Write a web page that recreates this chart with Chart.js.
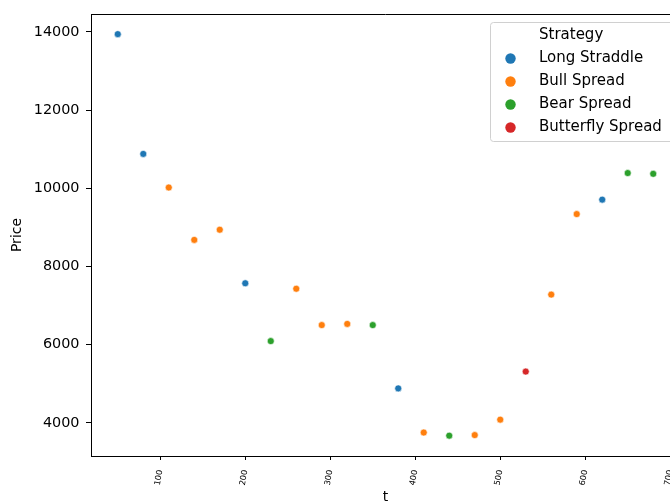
<!DOCTYPE html>
<html>
<head>
<meta charset="utf-8">
<script src="https://cdn.jsdelivr.net/npm/chart.js@4/dist/chart.umd.min.js"></script>
<style>
  html, body { margin: 0; padding: 0; overflow: hidden; background: #fff; }
  #wrap { position: absolute; left: 0; top: 0; width: 690px; height: 512px; }
</style>
</head>
<body>
<div id="wrap"><canvas id="scatter" width="690" height="512"></canvas></div>
<script>
// values
const tValues = [50, 80, 110, 140, 170, 200, 230, 260, 290, 320, 350, 380, 410, 440, 470, 500, 530, 560, 590, 620, 650, 680];
const prices = [13945, 10880, 10020, 8680, 8940, 7570, 6090, 7430, 6500, 6530, 6500, 4880, 3750, 3670, 3685, 4080, 5310, 7280, 9340, 9710, 10390, 10370];
const pointStrategy = [
  "Long Straddle", "Long Straddle", "Bull Spread", "Bull Spread", "Bull Spread",
  "Long Straddle", "Bear Spread", "Bull Spread", "Bull Spread", "Bull Spread",
  "Bear Spread", "Long Straddle", "Bull Spread", "Bear Spread", "Bull Spread",
  "Bull Spread", "Butterfly Spread", "Bull Spread", "Bull Spread", "Long Straddle",
  "Bear Spread", "Bear Spread"
];
const strategies = ["Long Straddle", "Bull Spread", "Bear Spread", "Butterfly Spread"];
const colors = ["#1f77b4", "#ff7f0e", "#2ca02c", "#d62728"];
const xTicks = [100, 200, 300, 400, 500, 600, 700];
const yTicks = [4000, 6000, 8000, 10000, 12000, 14000];

const FONT = "'DejaVu Sans', sans-serif";

const datasets = strategies.map((name, i) => ({
  label: name,
  data: tValues
    .map((t, k) => ({ x: t, y: prices[k], s: pointStrategy[k] }))
    .filter(p => p.s === name),
  backgroundColor: colors[i],
  borderColor: "#ffffff",
  borderWidth: 0.6,
  pointRadius: 3.5,
}));

// full box round the axes, like matplotlib spines
const framePlugin = {
  id: "frame",
  afterDraw(chart) {
    const { ctx, chartArea: a } = chart;
    ctx.save();
    ctx.strokeStyle = "#000";
    ctx.lineWidth = 1;
    ctx.beginPath();
    ctx.moveTo(a.left, a.top + 0.5);
    ctx.lineTo(a.right, a.top + 0.5);
    ctx.moveTo(a.right - 0.5, a.top);
    ctx.lineTo(a.right - 0.5, a.bottom);
    ctx.stroke();
    ctx.restore();
  }
};

// legend with title inside the plot, top right
const legendBox = {
  id: "legendBox",
  afterDraw(chart) {
    const ctx = chart.ctx;
    const x0 = 490.5, y0 = 22.5, w = 190, h = 119;
    ctx.save();
    ctx.fillStyle = "rgba(255,255,255,0.8)";
    ctx.strokeStyle = "#d0d0d0";
    ctx.lineWidth = 1;
    ctx.beginPath();
    ctx.roundRect(x0, y0, w, h, 3);
    ctx.fill();
    ctx.stroke();
    ctx.font = "15px " + FONT;
    ctx.fillStyle = "#000";
    ctx.textBaseline = "middle";
    ctx.textAlign = "left";
    ctx.fillText("Strategy", 539, 35);
    chart.data.datasets.forEach((ds, i) => {
      const y = 58.5 + i * 23;
      ctx.beginPath();
      ctx.arc(510.5, y, 5.2, 0, Math.PI * 2);
      ctx.fillStyle = ds.backgroundColor;
      ctx.fill();
      ctx.fillStyle = "#000";
      ctx.fillText(ds.label, 539, y);
    });
    ctx.restore();
  }
};

new Chart(document.getElementById("scatter"), {
  type: "scatter",
  data: { datasets },
  options: {
    responsive: false,
    devicePixelRatio: 1,
    animation: false,
    layout: { padding: { top: 14, right: 10, left: 0, bottom: 0 } },
    plugins: {
      legend: { display: false },
      tooltip: { enabled: false },
    },
    scales: {
      x: {
        type: "linear",
        min: 18.5,
        max: 711.5,
        afterBuildTicks: s => { s.ticks = xTicks.map(v => ({ value: v })); },
        afterFit: s => { s.height = 56; },
        grid: { drawOnChartArea: false, drawTicks: true, tickLength: 4, tickColor: "#000" },
        border: { display: true, color: "#000", width: 1 },
        ticks: {
          minRotation: 80,
          maxRotation: 80,
          padding: 9,
          color: "#000",
          font: { family: FONT, size: 8.3 },
          callback: v => String(v),
        },
        title: {
          display: true,
          text: "t",
          color: "#000",
          font: { family: FONT, size: 14 },
          padding: { top: 0, bottom: 6 },
        },
      },
      y: {
        min: 3150,
        max: 14460,
        afterBuildTicks: s => { s.ticks = yTicks.map(v => ({ value: v })); },
        afterFit: s => { s.width = 91; s.paddingTop = 0; s.paddingBottom = 0; },
        grid: { drawOnChartArea: false, drawTicks: true, tickLength: 5, tickColor: "#000" },
        border: { display: true, color: "#000", width: 1 },
        ticks: {
          padding: 6.5,
          color: "#000",
          font: { family: FONT, size: 14.4 },
          callback: v => String(v),
        },
        title: {
          display: true,
          text: "Price",
          color: "#000",
          font: { family: FONT, size: 14 },
          padding: { top: 9, bottom: 0 },
        },
      },
    },
  },
  plugins: [framePlugin, legendBox],
});
</script>
</body>
</html>
